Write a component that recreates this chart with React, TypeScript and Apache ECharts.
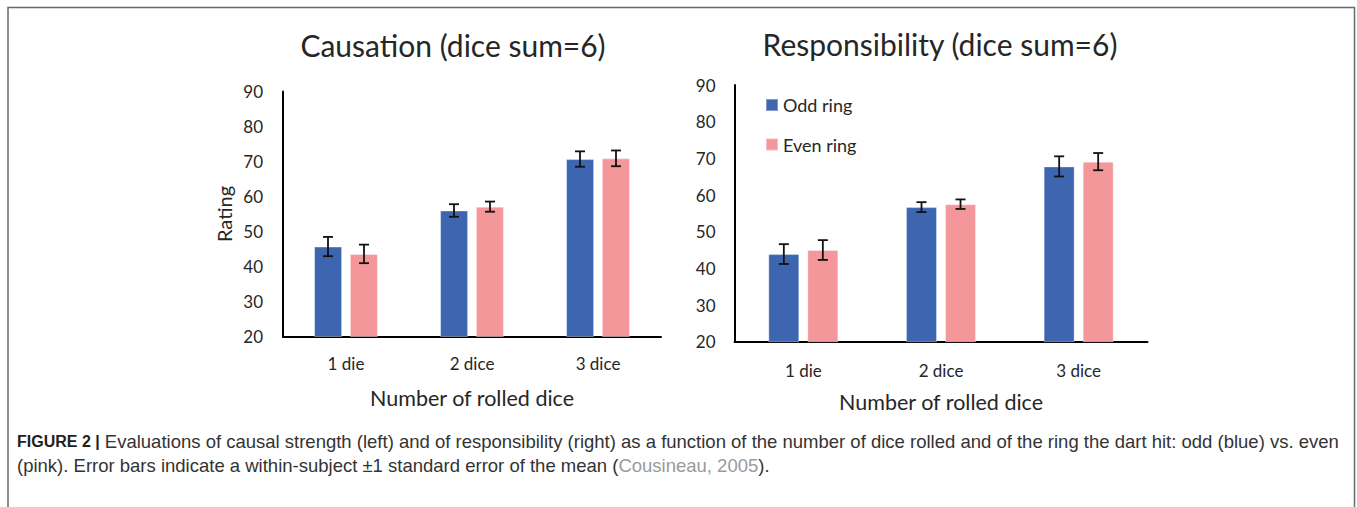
import React, { useEffect, useRef } from "react";
import * as echarts from "echarts";

const categories = ["1 die", "2 dice", "3 dice"];
const seriesNames = ["Odd ring", "Even ring"];
const causationOdd = [45.7, 56.0, 70.7];
const causationOddErr = [2.75, 1.8, 2.2];
const causationEven = [43.6, 57.1, 70.9];
const causationEvenErr = [2.65, 1.45, 2.25];
const respOdd = [43.9, 56.7, 67.8];
const respOddErr = [2.7, 1.35, 2.75];
const respEven = [45.0, 57.5, 69.1];
const respEvenErr = [2.7, 1.3, 2.35];
const yTicks = { min: 20, max: 90, interval: 10 };

const BLUE = "#3E66B0";
const PINK = "#F4979A";
const FONT = "Lato";
const TXT = "#262626";

function errSeries(vals: number[], errs: number[], grid: number, offset: number) {
  return {
    type: "custom",
    xAxisIndex: grid,
    yAxisIndex: grid,
    z: 10,
    silent: true,
    data: vals.map((v, i) => [i, v, errs[i]]),
    renderItem: (params: any, api: any) => {
      const c = api.value(0);
      const v = api.value(1);
      const e = api.value(2);
      const top = api.coord([c, v + e]);
      const bot = api.coord([c, v - e]);
      const x = top[0] + offset;
      const cap = 5;
      const style = { stroke: "#111", lineWidth: 1.8 };
      return {
        type: "group",
        children: [
          { type: "line", shape: { x1: x, y1: top[1], x2: x, y2: bot[1] }, style },
          { type: "line", shape: { x1: x - cap, y1: top[1], x2: x + cap, y2: top[1] }, style },
          { type: "line", shape: { x1: x - cap, y1: bot[1], x2: x + cap, y2: bot[1] }, style },
        ],
      };
    },
  };
}

export default function App() {
  const ref = useRef<HTMLDivElement>(null);
  useEffect(() => {
    if (!ref.current) return;
    const chart = echarts.init(ref.current, undefined, { renderer: "svg" });
    const axisLine = { show: true, lineStyle: { color: "#000", width: 2 } };
    const mkX = (grid: number, margin: number, nameGap: number) => ({
      type: "category",
      gridIndex: grid,
      data: categories,
      axisLine,
      axisTick: { show: false },
      axisLabel: { color: TXT, fontFamily: FONT, fontSize: 17, margin },
      name: "Number of rolled dice",
      nameLocation: "middle",
      nameGap,
      nameTextStyle: { color: TXT, fontFamily: FONT, fontSize: 21.5 },
    });
    const mkY = (grid: number, margin: number, withName: boolean) => ({
      type: "value",
      gridIndex: grid,
      min: yTicks.min,
      max: yTicks.max,
      interval: yTicks.interval,
      axisLine,
      axisTick: { show: false },
      splitLine: { show: false },
      axisLabel: { color: TXT, fontFamily: FONT, fontSize: 17, margin },
      ...(withName
        ? {
            name: "Rating",
            nameLocation: "middle",
            nameGap: 49,
            nameTextStyle: { color: TXT, fontFamily: FONT, fontSize: 20 },
          }
        : {}),
    });
    const bar = (name: string, data: number[], grid: number, color: string, width: number, gap: string) => ({
      type: "bar",
      name,
      xAxisIndex: grid,
      yAxisIndex: grid,
      data,
      barWidth: width,
      barGap: gap,
      itemStyle: { color, borderColor: "rgba(255,255,255,0.35)", borderWidth: 1 },
    });
    chart.setOption({
      animation: false,
      backgroundColor: "#fff",
      grid: [
        { left: 283, top: 91.5, width: 378, height: 245 },
        { left: 734.5, top: 85, width: 413, height: 256.7 },
      ],
      xAxis: [mkX(0, 18, 50), mkX(1, 20, 49)],
      yAxis: [mkY(0, 20, true), mkY(1, 19, false)],
      legend: {
        data: seriesNames,
        orient: "vertical",
        left: 765,
        top: 96,
        padding: 0,
        icon: "rect",
        itemWidth: 12,
        itemHeight: 12,
        itemGap: 21.5,
        textStyle: { color: TXT, fontFamily: FONT, fontSize: 18 },
        selectedMode: false,
      },
      series: [
        bar(seriesNames[0], causationOdd, 0, BLUE, 28, "28%"),
        bar(seriesNames[1], causationEven, 0, PINK, 28, "28%"),
        errSeries(causationOdd, causationOddErr, 0, -18),
        errSeries(causationEven, causationEvenErr, 0, 18),
        bar(seriesNames[0], respOdd, 1, BLUE, 31, "26%"),
        bar(seriesNames[1], respEven, 1, PINK, 31, "26%"),
        errSeries(respOdd, respOddErr, 1, -19.5),
        errSeries(respEven, respEvenErr, 1, 19.5),
      ],
      graphic: [
        {
          type: "polyline",
          shape: { points: [[8, 520], [8, 7.5], [1354.5, 7.5], [1354.5, 520]] },
          style: { stroke: "#6a6a6a", lineWidth: 1.5, fill: "none" },
          silent: true,
        },
        {
          type: "text",
          x: 453,
          y: 45,
          style: {
            text: "Causation (dice sum=6)",
            fontFamily: FONT,
            fontSize: 30,
            fill: TXT,
            align: "center",
            verticalAlign: "middle",
          },
        },
        {
          type: "text",
          x: 940,
          y: 44,
          style: {
            text: "Responsibility (dice sum=6)",
            fontFamily: FONT,
            fontSize: 30,
            fill: TXT,
            align: "center",
            verticalAlign: "middle",
          },
        },
        {
          type: "text",
          x: 17,
          y: 441,
          style: {
            text:
              "{b|FIGURE 2 |} Evaluations of causal strength (left) and of responsibility (right) as a function of the number of dice rolled and of the ring the dart hit: odd (blue) vs. even",
            fontFamily: "Liberation Sans",
            fontSize: 18.5,
            fill: "#333333",
            verticalAlign: "middle",
            rich: {
              b: { fontWeight: "bold", fontFamily: "Liberation Sans", fontSize: 16, fill: "#231f20" },
            },
          },
        },
        {
          type: "text",
          x: 17,
          y: 465,
          style: {
            text:
              "(pink). Error bars indicate a within-subject \u00b11 standard error of the mean ({g|Cousineau, 2005}).",
            fontFamily: "Liberation Sans",
            fontSize: 18.5,
            fill: "#333333",
            verticalAlign: "middle",
            rich: {
              g: { fontFamily: "Liberation Sans", fontSize: 18.5, fill: "#9a9a9a" },
            },
          },
        },
      ],
    });
    return () => chart.dispose();
  }, []);
  return (
    <div
      ref={ref}
      style={{ position: "fixed", left: 0, top: 0, width: 1357, height: 507, background: "#fff" }}
    />
  );
}
